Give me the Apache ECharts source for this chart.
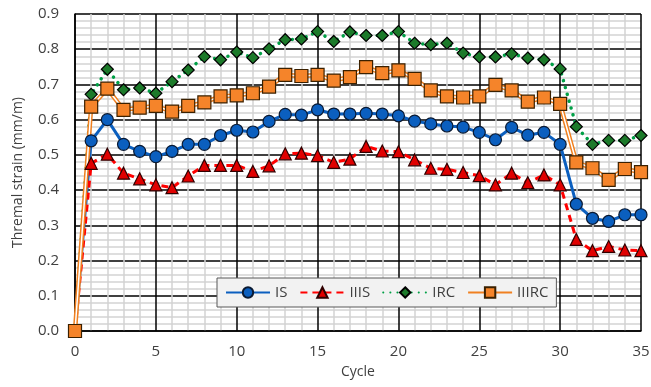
<!DOCTYPE html>
<html>
<head>
<meta charset="utf-8">
<script src="https://cdn.jsdelivr.net/npm/echarts@6/dist/echarts.min.js"></script>
<style>
  html, body { margin: 0; padding: 0; background: #fff; }
  #main { width: 651px; height: 387px; }
</style>
</head>
<body>
<div id="main"></div>
<script>
// cycles 0..35
const cycles = [0,1,2,3,4,5,6,7,8,9,10,11,12,13,14,15,16,17,18,19,20,21,22,23,24,25,26,27,28,29,30,31,32,33,34,35];

const IS = [0,0.54,0.60,0.53,0.51,0.495,0.51,0.53,0.53,0.555,0.57,0.565,0.595,0.615,0.613,0.628,0.616,0.616,0.618,0.616,0.611,0.596,0.588,0.582,0.579,0.564,0.543,0.578,0.556,0.564,0.53,0.36,0.32,0.311,0.33,0.33];
const IIIS = [0,0.476,0.502,0.448,0.432,0.415,0.407,0.44,0.47,0.47,0.47,0.453,0.469,0.503,0.505,0.498,0.479,0.488,0.524,0.511,0.509,0.486,0.462,0.459,0.45,0.441,0.415,0.448,0.421,0.443,0.415,0.26,0.228,0.24,0.23,0.228];
const IRC = [0,0.672,0.743,0.685,0.69,0.675,0.708,0.741,0.779,0.77,0.792,0.776,0.801,0.827,0.829,0.85,0.822,0.849,0.839,0.839,0.85,0.817,0.813,0.817,0.789,0.778,0.778,0.787,0.775,0.77,0.744,0.58,0.53,0.541,0.541,0.555];
const IIIRC = [0,0.637,0.688,0.628,0.634,0.639,0.623,0.639,0.649,0.666,0.669,0.675,0.694,0.727,0.724,0.727,0.711,0.721,0.749,0.732,0.74,0.716,0.683,0.666,0.663,0.666,0.699,0.683,0.651,0.663,0.645,0.479,0.462,0.429,0.46,0.451];

const pairs = arr => cycles.map((c, i) => [c, arr[i]]);

const textColor = '#404040';
const font = 'Open Sans';

let chart = echarts.init(document.getElementById('main'));
let option = {
  animation: false,
  textStyle: { fontFamily: font },
  grid: { left: 75, right: 10, top: 14, bottom: 56, outerBoundsMode: 'none', containLabel: false },
  legend: {
    data: ['IS', 'IIIS', 'IRC', 'IIIRC'],
    left: 217,
    top: 278,
    padding: [7, 8],
    itemGap: 12,
    itemWidth: 44,
    itemHeight: 13,
    backgroundColor: '#f2f2f2',
    borderColor: '#595959',
    borderWidth: 1,
    borderRadius: 0,
    textStyle: { fontFamily: font, fontSize: 15, color: textColor }
  },
  xAxis: {
    type: 'value',
    min: 0,
    max: 35,
    interval: 5,
    name: 'Cycle',
    nameLocation: 'middle',
    nameGap: 34,
    nameTextStyle: { fontSize: 14, color: textColor, fontFamily: font },
    axisLine: { show: true, lineStyle: { color: '#000', width: 1.5 } },
    axisTick: { show: false },
    axisLabel: { fontSize: 15, color: textColor, margin: 13 },
    splitLine: { show: true, lineStyle: { color: '#000', width: 1.5 } },
    minorTick: { show: false, splitNumber: 5 },
    minorSplitLine: { show: true, lineStyle: { color: '#d4d4d4', width: 1.5 } }
  },
  yAxis: {
    type: 'value',
    min: 0,
    max: 0.9,
    interval: 0.1,
    name: 'Thremal strain (mm/m)',
    nameLocation: 'middle',
    nameGap: 50,
    nameTextStyle: { fontSize: 14, color: textColor, fontFamily: font },
    axisLine: { show: true, lineStyle: { color: '#000', width: 1.5 } },
    axisTick: { show: false },
    axisLabel: { fontSize: 15, color: textColor, margin: 16, formatter: v => v.toFixed(1) },
    splitLine: { show: true, lineStyle: { color: '#000', width: 1.5 } },
    minorTick: { show: false, splitNumber: 5 },
    minorSplitLine: { show: true, lineStyle: { color: '#d4d4d4', width: 1.5 } }
  },
  series: [
    {
      name: 'IS',
      type: 'line',
      data: pairs(IS),
      symbol: 'circle',
      symbolSize: 12,
      lineStyle: { color: '#0b5fbf', width: 3 },
      itemStyle: { color: '#0b5fbf', borderColor: '#0a1a33', borderWidth: 1.2 }
    },
    {
      name: 'IIIS',
      type: 'line',
      data: pairs(IIIS),
      symbol: 'triangle',
      symbolSize: 12,
      lineStyle: { color: '#ff0000', width: 3, type: [7, 5] },
      itemStyle: { color: '#e00000', borderColor: '#300000', borderWidth: 1.2 }
    },
    {
      name: 'IRC',
      type: 'line',
      data: pairs(IRC),
      symbol: 'diamond',
      symbolSize: 12,
      lineStyle: { color: '#00a046', width: 3.5, type: [0.1, 7], cap: 'round' },
      itemStyle: { color: '#1c7a2a', borderColor: '#000', borderWidth: 1.2 }
    },
    {
      // outer orange stroke of the double line
      name: 'IIIRC',
      type: 'line',
      data: pairs(IIIRC),
      symbol: 'rect',
      symbolSize: 13,
      showSymbol: false,
      lineStyle: { color: '#f08020', width: 4.5 },
      itemStyle: { color: '#f5842a', borderColor: '#3a2000', borderWidth: 1.2 }
    },
    {
      // white core + square markers
      name: 'IIIRC-core',
      type: 'line',
      data: pairs(IIIRC),
      symbol: 'rect',
      symbolSize: 13,
      lineStyle: { color: '#ffffff', width: 1.5 },
      itemStyle: { color: '#f5842a', borderColor: '#3a2000', borderWidth: 1.2 }
    }
  ]
};
chart.setOption(option);
</script>
</body>
</html>
